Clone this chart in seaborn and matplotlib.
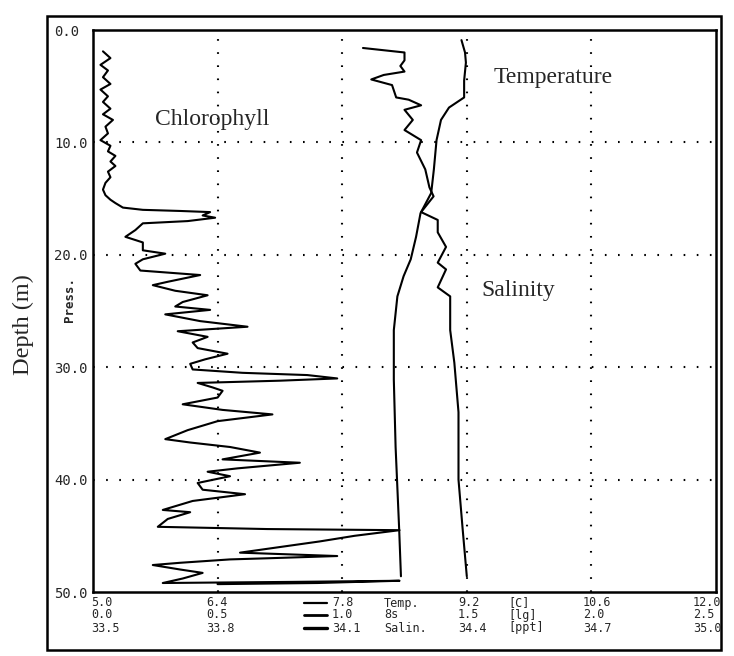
import matplotlib
matplotlib.use("Agg")
import matplotlib.pyplot as plt
import seaborn as sns
import pandas as pd
from matplotlib.lines import Line2D
from matplotlib.patches import Rectangle

# ---------------- data (read from the scanned profile) ----------------
chl_depth = [1.9, 2.5, 3.1, 3.6, 4.2, 4.8, 5.3, 5.9, 6.4, 7.0, 7.5, 8.0, 8.6, 9.2, 9.8,
             10.3, 10.8, 11.2, 11.7, 12.1, 12.6, 13.1, 13.6, 14.2, 14.7, 15.1, 15.4, 15.8,
             16.0, 16.1, 16.2, 16.5, 16.7, 17.0, 17.2, 17.8, 18.4, 18.9, 19.6, 19.9, 20.4,
             20.8, 21.4, 21.8, 22.4, 22.7, 23.2, 23.6, 24.2, 24.6, 24.9, 25.3, 25.9, 26.4,
             26.8, 27.3, 27.8, 28.3, 28.8, 29.3, 29.7, 30.2, 30.5, 30.7, 31.0, 31.2, 31.4,
             31.8, 32.1, 32.7, 33.3, 33.8, 34.2, 34.8, 35.6, 36.4, 36.7, 37.1, 37.6, 38.2,
             38.5, 39.0, 39.3, 39.7, 40.3, 40.9, 41.3, 41.9, 42.7, 42.9, 43.5, 44.2, 44.4,
             44.5, 45.0, 45.5, 46.0, 46.5, 46.8, 47.0, 47.1, 47.4, 47.6, 48.0, 48.3, 48.8,
             49.2, 49.1, 49.0, 49.2, 49.3]
chl_value = [0.04, 0.07, 0.03, 0.06, 0.04, 0.07, 0.03, 0.06, 0.04, 0.07, 0.04, 0.08, 0.05, 0.06, 0.03,
             0.07, 0.06, 0.09, 0.07, 0.09, 0.06, 0.07, 0.05, 0.04, 0.05, 0.07, 0.09, 0.12,
             0.20, 0.35, 0.47, 0.44, 0.49, 0.38, 0.20, 0.17, 0.13, 0.20, 0.20, 0.29, 0.20,
             0.17, 0.19, 0.43, 0.30, 0.24, 0.33, 0.46, 0.36, 0.33, 0.47, 0.29, 0.43, 0.62,
             0.34, 0.46, 0.40, 0.42, 0.54, 0.45, 0.39, 0.40, 0.60, 0.86, 0.98, 0.75, 0.42,
             0.48, 0.52, 0.50, 0.36, 0.52, 0.72, 0.50, 0.38, 0.29, 0.39, 0.55, 0.67, 0.52,
             0.83, 0.58, 0.46, 0.55, 0.42, 0.44, 0.61, 0.40, 0.28, 0.39, 0.30, 0.26, 0.70,
             1.23, 1.05, 0.91, 0.75, 0.59, 0.98, 0.70, 0.55, 0.35, 0.24, 0.35, 0.44, 0.36,
             0.28, 0.80, 1.23, 0.90, 0.50]

temp_depth = [0.9, 2.0, 2.9, 4.5, 6.0, 6.9, 8.0, 9.8, 12.4, 14.5, 16.3, 18.4, 20.4, 21.9,
              23.7, 26.7, 31.1, 37.1, 44.4, 48.6]
temp_value = [9.14, 9.18, 9.19, 9.17, 9.17, 9.00, 8.91, 8.86, 8.83, 8.80, 8.68, 8.63, 8.57, 8.49,
              8.42, 8.38, 8.38, 8.40, 8.44, 8.46]

sal_depth = [1.6, 2.0, 2.7, 3.2, 3.7, 4.0, 4.4, 4.9, 6.0, 6.2, 6.7, 7.1, 8.0, 8.9, 9.8, 10.9,
             12.4, 14.0, 14.8, 16.2, 16.9, 18.0, 19.3, 20.7, 21.3, 22.9, 23.7, 25.2, 26.7,
             29.6, 34.0, 40.0, 44.4, 48.6]
sal_value = [34.15, 34.25, 34.25, 34.24, 34.25, 34.20, 34.17, 34.22, 34.23, 34.26, 34.29, 34.25,
             34.27, 34.25, 34.29, 34.28, 34.30, 34.31, 34.32, 34.29, 34.33, 34.33, 34.35, 34.33,
             34.35, 34.33, 34.36, 34.36, 34.36, 34.37, 34.38, 34.38, 34.39, 34.40]

depth_ticks = [0, 10, 20, 30, 40, 50]
depth_labels = ["0.0", "10.0", "20.0", "30.0", "40.0", "50.0"]
temp_ticks = [5.0, 6.4, 7.8, 9.2, 10.6, 12.0]
row_temp = ["5.0", "6.4", "7.8", "9.2", "10.6", "12.0"]
row_chl = ["0.0", "0.5", "1.0", "1.5", "2.0", "2.5"]
row_sal = ["33.5", "33.8", "34.1", "34.4", "34.7", "35.0"]
row_names = ["Temp.", "8s", "Salin."]
row_units = ["[C]", "[lg]", "[ppt]"]

chl_df = pd.DataFrame({"depth": chl_depth, "chl": chl_value})
temp_df = pd.DataFrame({"depth": temp_depth, "temp": temp_value})
sal_df = pd.DataFrame({"depth": sal_depth, "sal": sal_value})

# ---------------- figure ----------------
sns.set_style("white")
plt.rcParams["font.family"] = ["DejaVu Sans"]

W, H = 734, 656
fig = plt.figure(figsize=(W / 100, H / 100), dpi=100)

def fx(px):
    return px / W

def fy(py):
    return 1 - py / H

L, R, T, B = 93, 716, 30, 592
ax = fig.add_axes([fx(L), fy(B), fx(R) - fx(L), fy(T) - fy(B)])
ax_chl = ax.twiny()
ax_sal = ax.twiny()

lw = 1.5
sns.lineplot(data=temp_df, x="temp", y="depth", sort=False, estimator=None,
             color="black", lw=lw, ax=ax)
sns.lineplot(data=chl_df, x="chl", y="depth", sort=False, estimator=None,
             color="black", lw=lw, ax=ax_chl)
sns.lineplot(data=sal_df, x="sal", y="depth", sort=False, estimator=None,
             color="black", lw=lw, ax=ax_sal)

ax.set_xlim(5.0, 12.0)
ax_chl.set_xlim(0.0, 2.5)
ax_sal.set_xlim(33.5, 35.0)
ax.set_ylim(50, 0)

for a in (ax_chl, ax_sal):
    a.set_xticks([])
    a.set_xlabel("")
    a.set_ylabel("")
    for s in a.spines.values():
        s.set_visible(False)

ax.set_xlabel("")
ax.set_ylabel("")
ax.set_xticks(temp_ticks)
ax.set_xticklabels([])
ax.tick_params(axis="x", length=0)
ax.set_yticks(depth_ticks)
ax.set_yticklabels(depth_labels, family="DejaVu Sans Mono", fontsize=10)
ax.tick_params(axis="y", direction="inout", length=6, width=1.2, pad=25)
for lbl in ax.get_yticklabels():
    lbl.set_horizontalalignment("left")

for s in ax.spines.values():
    s.set_visible(True)
    s.set_linewidth(1.8)
    s.set_color("black")

# dotted grid
grid_style = dict(color="black", lw=1.5, linestyle=(0, (0.8, 5.5)))
for t in temp_ticks[1:-1]:
    ax.axvline(t, **grid_style)
for d in depth_ticks[1:-1]:
    ax.axhline(d, **grid_style)

# curve annotations
serif = "Liberation Serif"
ax.text(0.191, 0.840, "Chlorophyll", transform=ax.transAxes, family=serif,
        fontsize=17, ha="center", va="center")
ax.text(0.738, 0.915, "Temperature", transform=ax.transAxes, family=serif,
        fontsize=17, ha="center", va="center")
ax.text(0.682, 0.537, "Salinity", transform=ax.transAxes, family=serif,
        fontsize=17, ha="center", va="center")

# axis titles
fig.text(fx(23), fy(325), "Depth (m)", rotation=90, family=serif, fontsize=17.5,
         ha="center", va="center")
fig.text(fx(69), fy(300), "Press.", rotation=90, family="DejaVu Sans Mono",
         fontsize=9, fontweight="bold", ha="center", va="center")

# bottom scale rows
mono = dict(family="DejaVu Sans Mono", fontsize=8.5, va="center", ha="left")
rows_y = [603, 615, 628]
col_x = [91, 206, 332, 458, 583, 693]
rows = [row_temp, row_chl, row_sal]
for r, (ypx, vals) in enumerate(zip(rows_y, rows)):
    for cx, v in zip(col_x, vals):
        fig.text(fx(cx), fy(ypx), v, **mono)
    fig.text(fx(384), fy(ypx), row_names[r], **mono)
    fig.text(fx(508), fy(ypx), row_units[r], **mono)
    fig.add_artist(Line2D([fx(304), fx(327)], [fy(ypx), fy(ypx)], color="black",
                          lw=1.6 + 0.4 * r, transform=fig.transFigure))

# outer frame
fig.add_artist(Rectangle((fx(47), fy(650)), fx(721) - fx(47), fy(16) - fy(650),
                         fill=False, lw=1.8, edgecolor="black",
                         transform=fig.transFigure))

fig.savefig("out.png", dpi=100, facecolor="white")
